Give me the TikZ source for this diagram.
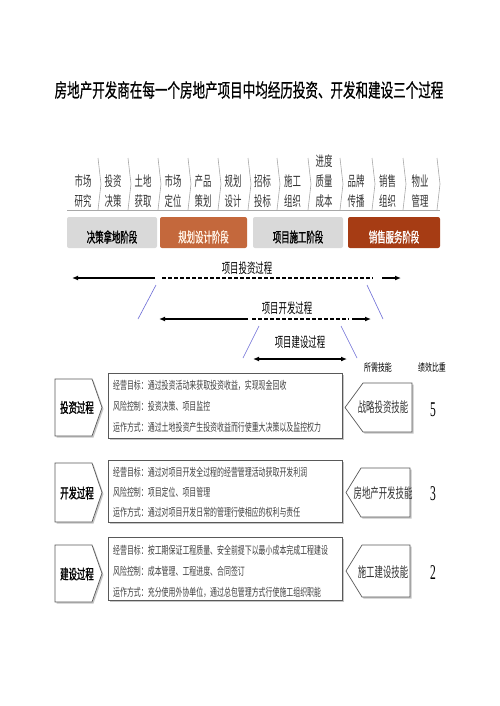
\documentclass[tikz,border=0pt]{standalone}
\usepackage{fontspec}
\usetikzlibrary{arrows.meta}
\newfontfamily\cjkT[FakeStretch=0.66,FakeBold=0.6]{Noto Sans CJK SC}
\newfontfamily\cjkM[FakeStretch=0.6]{Noto Sans CJK SC}
\newfontfamily\cjkMB[FakeStretch=0.6,FakeBold=1.2]{Noto Sans CJK SC}
\newfontfamily\cjkS[FakeStretch=0.63]{Noto Sans CJK SC}
\newfontfamily\cjkH[FakeStretch=0.66]{Noto Sans CJK SC}
\newfontfamily\numF[FakeStretch=0.55]{Liberation Serif}
\definecolor{barGray}{HTML}{D9D9D9}
\definecolor{barOrange}{HTML}{C4683C}
\definecolor{barDark}{HTML}{A63C14}
\definecolor{lineBlue}{HTML}{6B6BD6}
\definecolor{sepGray}{HTML}{A8A8A8}
\definecolor{txtGray}{HTML}{333333}
\begin{document}
\begin{tikzpicture}[x=1pt,y=-1pt,
  title/.style={font=\cjkT\fontsize{19}{22}\selectfont, inner sep=0pt},
  item/.style={font=\cjkM\fontsize{14}{20}\selectfont, align=center, inner sep=0pt, text=txtGray},
  sep/.style={draw=sepGray, line width=0.6pt},
  bar/.style={rectangle, rounded corners=2pt, minimum height=31pt, inner sep=0pt, draw=none},
  bartxt/.style={font=\cjkMB\fontsize{14}{16}\selectfont, inner sep=0pt},
  lbl/.style={font=\cjkM\fontsize{14}{16}\selectfont, inner sep=0pt},
  solidarr/.style={line width=1.4pt, -{Latex[length=6pt,width=5pt]}},
  dashln/.style={line width=1.1pt, dash pattern=on 3.5pt off 2.5pt},
  blueln/.style={draw=lineBlue, line width=0.6pt},
  pent/.style={draw=gray!70!black, line width=0.7pt, fill=white},
  shadow/.style={fill=gray!45, draw=none},
  ptxt/.style={font=\cjkMB\fontsize{14}{16}\selectfont, inner sep=0pt},
  rtxt/.style={font=\cjkM\fontsize{14}{16}\selectfont, inner sep=0pt, text=txtGray},
  ltxt/.style={font=\cjkS\fontsize{11}{13}\selectfont, inner sep=0pt, anchor=west, text=black!75},
  hdr/.style={font=\cjkH\fontsize{10.5}{12}\selectfont, inner sep=0pt},
  num/.style={font=\numF\fontsize{21}{21}\selectfont, inner sep=0pt}
]
\path[use as bounding box, fill=white] (0,0) rectangle (499,706);

% title
\node[title] (title) at (249,90) {房地产开发商在每一个房地产项目中均经历投资、开发和建设三个过程};

% top chevron items
\foreach \x in {98,128,158,188,218,248,277,308,340,372,403,437}{
  \draw[sep] (\x,158) -- (\x+3,184) -- (\x,210);
}
\draw[sep] (67,210) -- (440,210);
\node[item] (it1) at (83,191) {市场\\研究};
\node[item] (it2) at (113,191) {投资\\决策};
\node[item] (it3) at (143,191) {土地\\获取};
\node[item] (it4) at (173,191) {市场\\定位};
\node[item] (it5) at (203,191) {产品\\策划};
\node[item] (it6) at (233,191) {规划\\设计};
\node[item] (it7) at (262.5,191) {招标\\投标};
\node[item] (it8) at (292.5,191) {施工\\组织};
\node[item] (it9) at (324,181) {进度\\质量\\成本};
\node[item] (it10) at (356,191) {品牌\\传播};
\node[item] (it11) at (387.5,191) {销售\\组织};
\node[item] (it12) at (420,191) {物业\\管理};

% phase bars
\node[bar, fill=barGray, minimum width=90pt] (b1) at (112,232.5) {};
\node[bar, fill=barOrange, minimum width=87pt] (b2) at (203.5,232.5) {};
\node[bar, fill=barGray, minimum width=90pt] (b3) at (298,232.5) {};
\node[bar, fill=barDark, minimum width=92pt] (b4) at (394,232.5) {};
\node[bartxt, text=black] (bt1) at (112,237) {决策拿地阶段};
\node[bartxt, text=white!90!orange] (bt2) at (203.5,237) {规划设计阶段};
\node[bartxt, text=black] (bt3) at (298,237) {项目施工阶段};
\node[bartxt, text=white] (bt4) at (394,237) {销售服务阶段};

% investment process arrow
\node[lbl] (l1) at (247,268) {项目投资过程};
\coordinate (iA) at (72,278);
\coordinate (iB) at (155,278);
\coordinate (iC) at (162,278);
\coordinate (iD) at (373,278);
\coordinate (iE) at (382,278);
\coordinate (iF) at (401,278);
\draw[solidarr] (iB) -- (iA);
\draw[dashln] (iC) -- (iD);
\draw[solidarr] (iE) -- (iF);

% development process arrow
\node[lbl] (l2) at (287,308) {项目开发过程};
\coordinate (dA) at (159,319);
\coordinate (dB) at (248,319);
\coordinate (dC) at (252,319);
\coordinate (dD) at (349,319);
\coordinate (dE) at (352,319);
\coordinate (dF) at (371,319);
\draw[solidarr] (dB) -- (dA);
\draw[dashln] (dC) -- (dD);
\draw[solidarr] (dE) -- (dF);

% construction process arrow
\node[lbl] (l3) at (300,342) {项目建设过程};
\coordinate (cA) at (253,359);
\coordinate (cB) at (347,359);
\draw[line width=1.4pt, {Latex[length=6pt,width=5pt]}-{Latex[length=6pt,width=5pt]}] (cA) -- (cB);

% blue guide lines
\coordinate (u1a) at (156,285); \coordinate (u1b) at (138,319);
\coordinate (u2a) at (367,285); \coordinate (u2b) at (383,319);
\coordinate (u3a) at (259,326); \coordinate (u3b) at (243,358);
\coordinate (u4a) at (341,326); \coordinate (u4b) at (357,358);
\draw[blueln] (u1a) -- (u1b);
\draw[blueln] (u2a) -- (u2b);
\draw[blueln] (u3a) -- (u3b);
\draw[blueln] (u4a) -- (u4b);

% headers
\node[hdr] (h1) at (378,368) {所需技能};
\node[hdr] (h2) at (432,368) {绩效比重};

% ---- row 1 ----
\fill[shadow] (56.5,380.5) -- (93.5,380.5) -- (103.5,409) -- (93.5,437.5) -- (56.5,437.5) -- cycle;
\draw[pent] (55,379) -- (92,379) -- (102,407.5) -- (92,436) -- (55,436) -- cycle;
\node[ptxt] (p1) at (77,407.5) {投资过程};
\fill[shadow] (109.5,374.5) rectangle (343.5,439.5);
\draw[pent] (108,373) rectangle (342,438);
\node[ltxt] (r1a) at (113,385) {经营目标：通过投资活动来获取投资收益，实现现金回收};
\node[ltxt] (r1b) at (113,406) {风险控制：投资决策、项目监控};
\node[ltxt] (r1c) at (113,427) {运作方式：通过土地投资产生投资收益而行使重大决策以及监控权力};
\fill[shadow] (346.5,409) -- (364.5,384.5) -- (413.5,384.5) -- (413.5,433.5) -- (364.5,433.5) -- cycle;
\draw[pent] (345,407.5) -- (363,383) -- (412,383) -- (412,432) -- (363,432) -- cycle;
\node[rtxt] (s1) at (383,407.5) {战略投资技能};
\node[num] (n1) at (433,410) {5};

% ---- row 2 ----
\fill[shadow] (56.5,464.5) -- (93.5,464.5) -- (103.5,494) -- (93.5,523.5) -- (56.5,523.5) -- cycle;
\draw[pent] (55,463) -- (92,463) -- (102,492.5) -- (92,522) -- (55,522) -- cycle;
\node[ptxt] (p2) at (77,493) {开发过程};
\fill[shadow] (109.5,461.5) rectangle (343.5,523.5);
\draw[pent] (108,460) rectangle (342,522);
\node[ltxt] (r2a) at (113,472) {经营目标：通过对项目开发全过程的经营管理活动获取开发利润};
\node[ltxt] (r2b) at (113,492) {风险控制：项目定位、项目管理};
\node[ltxt] (r2c) at (113,512) {运作方式：通过对项目开发日常的管理行使相应的权利与责任};
\fill[shadow] (347.5,494) -- (362.5,469.5) -- (411.5,469.5) -- (411.5,518.5) -- (362.5,518.5) -- cycle;
\draw[pent] (346,492.5) -- (361,468) -- (410,468) -- (410,517) -- (361,517) -- cycle;
\node[rtxt] (s2) at (383,493) {房地产开发技能};
\node[num] (n2) at (433,494) {3};

% ---- row 3 ----
\fill[shadow] (56.5,546.5) -- (93.5,546.5) -- (103.5,575) -- (93.5,603.5) -- (56.5,603.5) -- cycle;
\draw[pent] (55,545) -- (92,545) -- (102,573.5) -- (92,602) -- (55,602) -- cycle;
\node[ptxt] (p3) at (77,574) {建设过程};
\fill[shadow] (109.5,538.5) rectangle (343.5,601.5);
\draw[pent] (108,537) rectangle (342,600);
\node[ltxt] (r3a) at (113,550) {经营目标：按工期保证工程质量、安全前提下以最小成本完成工程建设};
\node[ltxt] (r3b) at (113,571) {风险控制：成本管理、工程进度、合同签订};
\node[ltxt] (r3c) at (113,592) {运作方式：充分使用外协单位，通过总包管理方式行使施工组织职能};
\fill[shadow] (347.5,572.5) -- (363.5,546.5) -- (411.5,546.5) -- (411.5,598.5) -- (363.5,598.5) -- cycle;
\draw[pent] (346,571) -- (362,545) -- (410,545) -- (410,597) -- (362,597) -- cycle;
\node[rtxt] (s3) at (383,572) {施工建设技能};
\node[num] (n3) at (433,573) {2};
\end{tikzpicture}
\end{document}
